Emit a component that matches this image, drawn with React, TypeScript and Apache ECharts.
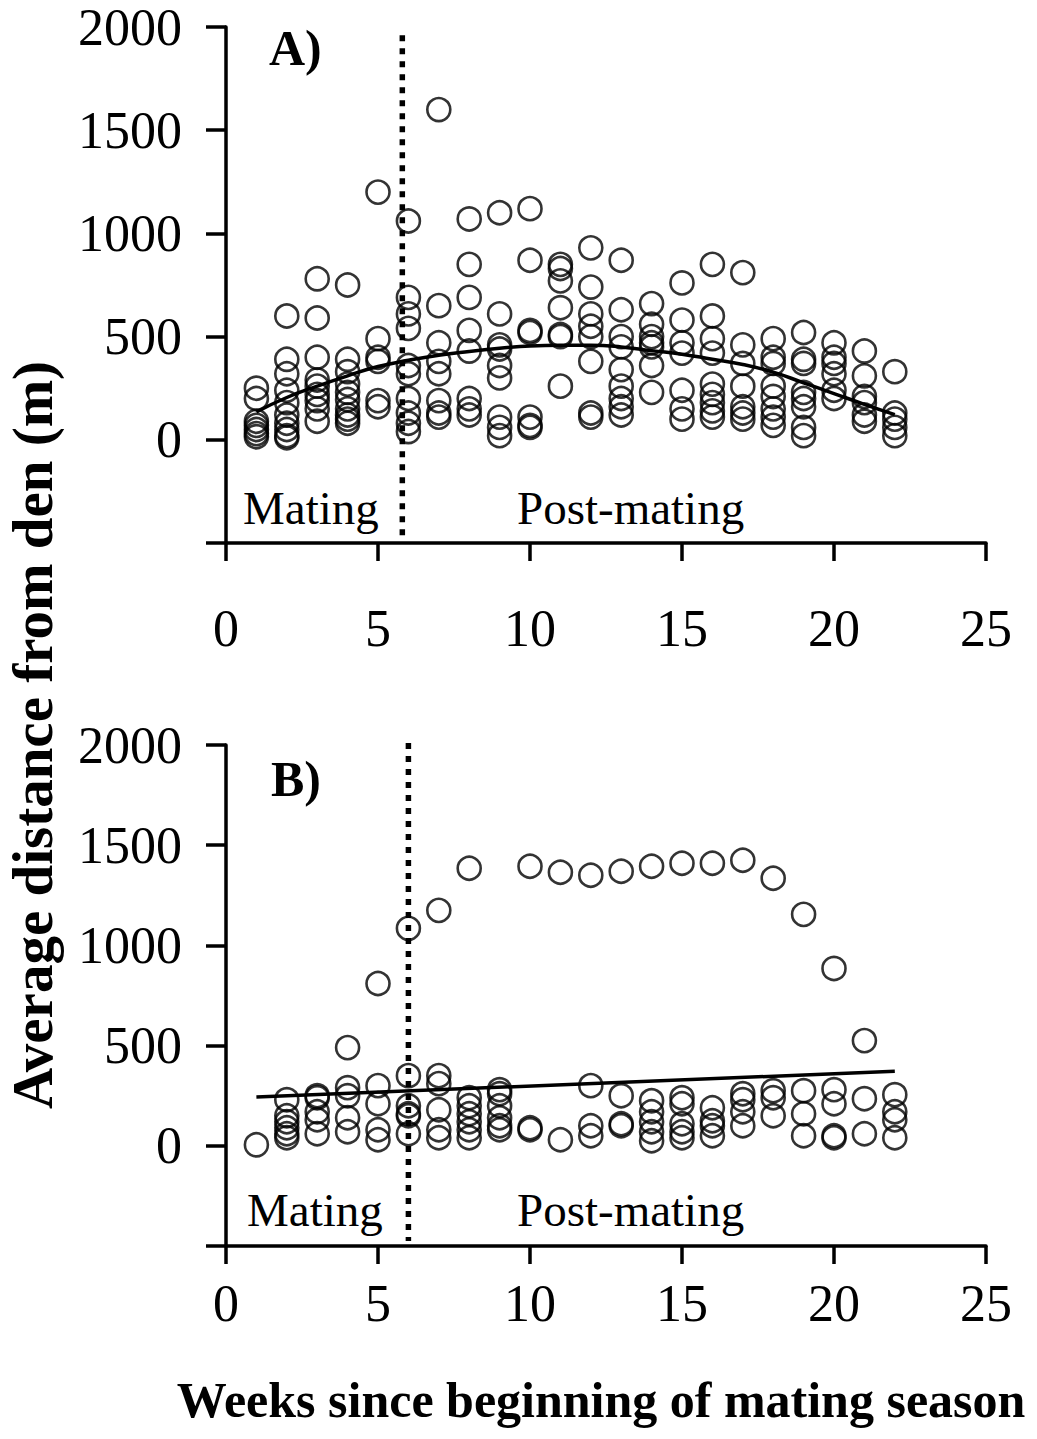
import React, { useEffect, useRef } from "react";
import * as echarts from "echarts";

// Panel A: average distance (m) for each week 1..22
const panelAValues: number[][] = [
  [250, 200, 90, 70, 50, 30, 15],
  [600, 390, 320, 240, 180, 120, 80, 50, 20, 10],
  [780, 590, 400, 290, 260, 220, 190, 150, 90],
  [750, 390, 330, 270, 230, 195, 150, 120, 100, 80],
  [1200, 490, 400, 380, 190, 160],
  [1060, 690, 610, 540, 360, 320, 200, 130, 80, 40],
  [1600, 650, 470, 380, 320, 190, 130, 110],
  [1070, 850, 690, 530, 430, 200, 150, 120],
  [1100, 610, 460, 440, 360, 300, 110, 60, 20],
  [1120, 870, 530, 520, 110, 70, 60],
  [850, 830, 770, 640, 510, 500, 260],
  [930, 740, 610, 550, 500, 380, 130, 110],
  [870, 630, 500, 450, 340, 260, 200, 160, 120],
  [660, 560, 500, 470, 450, 360, 230],
  [760, 580, 470, 420, 240, 150, 100],
  [850, 600, 490, 420, 270, 220, 180, 140, 110],
  [810, 460, 370, 260, 160, 130, 100],
  [490, 400, 370, 260, 210, 150, 110, 70],
  [520, 390, 370, 230, 200, 160, 60, 20],
  [470, 400, 370, 320, 240, 200],
  [430, 310, 210, 180, 120, 90],
  [330, 130, 100, 60, 20],
];
const panelATrend: number[] = [
  135, 205, 260, 310, 355, 385, 410, 428, 443, 455, 458, 458, 450, 432, 415, 390, 365, 328, 276, 224, 172, 122,
];

// Panel B
const panelBValues: number[][] = [
  [5],
  [230, 150, 120, 90, 60, 40],
  [250, 240, 170, 130, 60],
  [490, 290, 250, 140, 70],
  [810, 300, 210, 80, 30],
  [1085, 350, 200, 160, 150, 60],
  [1175, 350, 310, 180, 80, 40],
  [1385, 240, 200, 160, 120, 80, 40],
  [280, 260, 200, 140, 100, 80],
  [1395, 90, 80],
  [1365, 30],
  [1350, 300, 100, 50],
  [1370, 250, 110, 100],
  [1395, 225, 170, 120, 70, 25],
  [1410, 240, 210, 110, 70, 40],
  [1410, 190, 125, 100, 50],
  [1425, 260, 230, 170, 100],
  [1335, 275, 240, 150],
  [1155, 275, 160, 50],
  [885, 280, 210, 50, 40],
  [525, 235, 60],
  [255, 170, 130, 40],
];
const panelBTrendWeeks: number[] = [1, 22];
const panelBTrend: number[] = [243, 372];

// Vertical divider between mating and post-mating
const dividerA: number[][] = [[5.8, 1960], [5.8, -470]];
const dividerB: number[][] = [[6, 2010], [6, -475]];

const xTicks = { min: 0, max: 25, interval: 5 };
const yTicks = { min: -500, max: 2000, interval: 500 };

const FONT = "Liberation Serif";

function toPoints(values: number[][]): number[][] {
  const pts: number[][] = [];
  values.forEach((arr, i) => arr.forEach((v) => pts.push([i + 1, v])));
  return pts;
}

export default function App() {
  const ref = useRef<HTMLDivElement>(null);
  useEffect(() => {
    if (!ref.current) return;
    const chart = echarts.init(ref.current, undefined, { renderer: "svg" });
    const axisLine = { show: true, onZero: false, lineStyle: { color: "#000", width: 3.5 } };
    const mkX = (gridIndex: number, margin: number) => ({
      type: "value",
      gridIndex,
      ...xTicks,
      axisLine,
      axisTick: { show: true, inside: false, length: 18, lineStyle: { color: "#000", width: 3.5 } },
      splitLine: { show: false },
      axisLabel: { color: "#000", fontFamily: FONT, fontSize: 52, margin },
    });
    const mkY = (gridIndex: number) => ({
      type: "value",
      gridIndex,
      ...yTicks,
      axisLine,
      axisTick: { show: true, inside: false, length: 20, lineStyle: { color: "#000", width: 3.5 } },
      splitLine: { show: false },
      axisLabel: {
        color: "#000",
        fontFamily: FONT,
        fontSize: 52,
        margin: 44,
        formatter: (v: number) => (v < 0 ? "" : String(v)),
      },
    });
    const scatterStyle = {
      type: "scatter",
      symbol: "circle",
      symbolSize: 23,
      itemStyle: { color: "rgba(0,0,0,0)", borderColor: "#000", borderWidth: 2.6 },
      z: 3,
    };
    const trendStyle = {
      type: "line",
      showSymbol: false,
      smooth: true,
      lineStyle: { color: "#000", width: 3.5 },
      z: 4,
    };
    const dividerStyle = {
      type: "line",
      showSymbol: false,
      lineStyle: { color: "#000", width: 5.5, type: [6, 7], cap: "butt" },
      z: 2,
    };
    const textStyle = (extra: any) => ({
      fill: "#000",
      fontFamily: FONT,
      fontSize: 47,
      verticalAlign: "middle",
      ...extra,
    });
    chart.setOption({
      animation: false,
      backgroundColor: "#fff",
      grid: [
        { left: 226, top: 27, width: 760, height: 516 },
        { left: 226, top: 745, width: 760, height: 501 },
      ],
      xAxis: [mkX(0, 59), mkX(1, 31)],
      yAxis: [mkY(0), mkY(1)],
      series: [
        { ...dividerStyle, xAxisIndex: 0, yAxisIndex: 0, data: dividerA },
        { ...dividerStyle, xAxisIndex: 1, yAxisIndex: 1, data: dividerB },
        { ...scatterStyle, xAxisIndex: 0, yAxisIndex: 0, data: toPoints(panelAValues) },
        { ...scatterStyle, xAxisIndex: 1, yAxisIndex: 1, data: toPoints(panelBValues) },
        {
          ...trendStyle,
          xAxisIndex: 0,
          yAxisIndex: 0,
          data: panelATrend.map((v, i) => [i + 1, v]),
        },
        {
          ...trendStyle,
          smooth: false,
          xAxisIndex: 1,
          yAxisIndex: 1,
          data: panelBTrend.map((v, i) => [panelBTrendWeeks[i], v]),
        },
      ],
      graphic: [
        { type: "text", x: 269, y: 48, style: textStyle({ text: "A)", fontWeight: "bold", fontSize: 50 }) },
        { type: "text", x: 271, y: 779, style: textStyle({ text: "B)", fontWeight: "bold", fontSize: 50 }) },
        { type: "text", x: 243, y: 508, style: textStyle({ text: "Mating" }) },
        { type: "text", x: 517, y: 508, style: textStyle({ text: "Post-mating" }) },
        { type: "text", x: 247, y: 1210, style: textStyle({ text: "Mating" }) },
        { type: "text", x: 517, y: 1210, style: textStyle({ text: "Post-mating" }) },
        {
          type: "text",
          x: 601,
          y: 1400,
          style: textStyle({
            text: "Weeks since beginning of mating season",
            fontWeight: "bold",
            fontSize: 50,
            align: "center",
          }),
        },
        {
          type: "text",
          x: 32,
          y: 735,
          rotation: Math.PI / 2,
          style: textStyle({
            text: "Average distance from den (m)",
            fontWeight: "bold",
            fontSize: 57,
            align: "center",
          }),
        },
      ],
    });
    return () => chart.dispose();
  }, []);
  return (
    <div
      ref={ref}
      style={{ position: "absolute", left: 0, top: 0, width: 1037, height: 1439, background: "#fff" }}
    />
  );
}
